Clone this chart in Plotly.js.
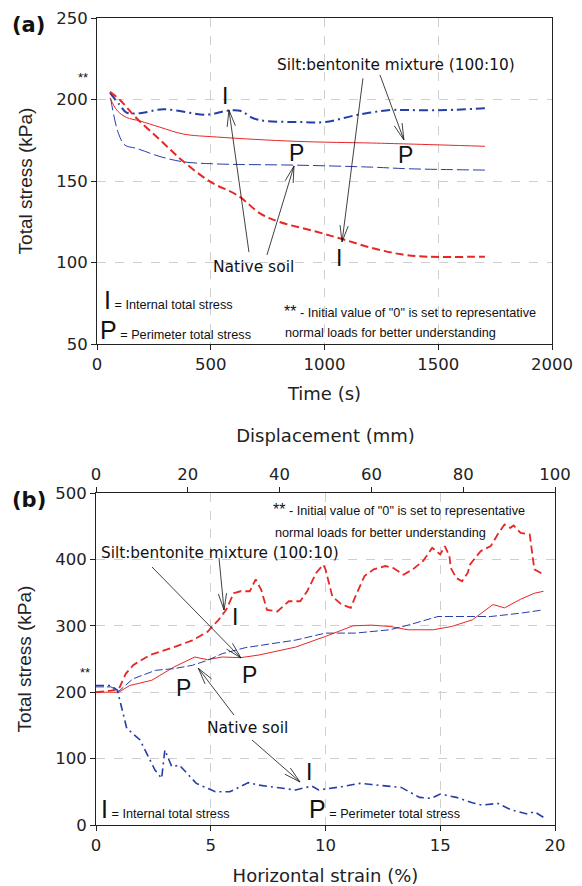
<!DOCTYPE html>
<html><head><meta charset="utf-8">
<script src="https://cdn.plot.ly/plotly-3.0.1.min.js"></script>
<style>body{margin:0;padding:0;background:#fff}#chart{width:582px;height:886px}</style>
</head><body><div id="chart"></div>
<script>
// ---- Panel (a): Time (s) vs Total stress (kPa)
const aNatIntT = [57, 98, 130, 189, 292, 482, 570, 629, 687, 746, 881, 1003, 1142, 1289, 1370, 1533, 1705];
const aNatIntS = [204, 197, 192, 191.6, 194, 190.7, 193.1, 193.1, 188.5, 186.8, 186.2, 186.2, 190.5, 193.5, 193.5, 193.5, 194.7];
const aNatPerT = [60, 94, 123, 174, 277, 379, 520, 881, 1207, 1370, 1705];
const aNatPerS = [200.6, 179.3, 172, 170, 165, 161.8, 160.5, 159.7, 158.5, 157.5, 156.7];
const aSiltPerT = [57, 90, 130, 189, 277, 380, 525, 881, 1207, 1370, 1705];
const aSiltPerS = [201, 193, 189, 186.8, 183, 178.8, 177, 174.3, 173.3, 172.7, 171.3];
const aSiltIntT = [57, 101, 174, 277, 372, 497, 620, 718, 799, 962, 1077, 1207, 1338, 1452, 1705];
const aSiltIntS = [204.8, 199.7, 188.5, 175.2, 162.9, 149.6, 141, 130, 125, 119, 114.4, 109, 105, 103.6, 103.6];

// ---- Panel (b): Horizontal strain (%) vs Total stress (kPa)
const bSiltIntX = [0, 0.65, 1.0, 1.3, 1.63, 2.35, 3.4, 4.2, 4.86, 5.34, 5.67, 6.0, 6.3, 6.7, 6.96, 7.2, 7.45, 7.9, 8.4, 8.9, 9.2, 9.6, 9.9, 10.0, 10.3, 10.7, 11.1, 11.3, 11.7, 12.1, 12.6, 12.96, 13.4, 13.8, 14.25, 14.65, 15.0, 15.2, 15.4, 15.46, 15.7, 15.95, 16.2, 16.3, 16.76, 17.2, 17.5, 17.8, 18.05, 18.2, 18.5, 18.9, 19.1, 19.5];
const bSiltIntY = [200, 202.5, 205, 228, 241, 256, 268, 278, 291, 309, 324, 349, 352, 352, 370, 354, 324, 321.5, 337, 337, 352, 380, 392, 385, 344, 332, 327, 344, 375, 385, 390, 387, 377, 385, 397.5, 417.5, 407.5, 420, 405, 387, 372, 367, 380, 392.5, 412.5, 420, 437.5, 452.5, 447.5, 451, 440, 437.5, 385, 377.5];
const bSiltPerX = [0, 1.0, 1.46, 2.43, 3.4, 4.3, 4.86, 5.5, 6.3, 7.1, 8.7, 10.0, 11.2, 12.0, 12.8, 13.6, 14.7, 15.5, 16.4, 17.3, 17.8, 18.5, 19.1, 19.5];
const bSiltPerY = [200, 200, 210, 218, 238, 253, 249, 253, 252, 256, 268, 284, 300, 301, 299, 294, 294, 299, 309, 332, 327, 340, 349, 352];
const bNatPerX = [0, 0.65, 1.0, 1.6, 2.6, 3.4, 4.2, 4.86, 5.5, 6.5, 7.45, 8.7, 10, 11.3, 12.8, 13.6, 14.9, 16.0, 17.2, 18.5, 19.5];
const bNatPerY = [208, 208, 201.5, 220, 233, 235.5, 240.5, 248, 258, 267, 272, 278.5, 289, 289, 294, 301, 314, 314, 314, 319, 324];
const bNatIntX = [0, 0.65, 0.93, 1.12, 1.34, 1.92, 2.2, 2.57, 2.86, 3.0, 3.3, 3.64, 4.37, 5.2, 5.83, 6.64, 7.1, 8.1, 8.7, 9.4, 9.7, 10.7, 11.5, 12, 13.3, 14.1, 14.6, 15.0, 15.7, 16.4, 16.8, 17.5, 18.1, 18.8, 19.1, 19.5];
const bNatIntY = [210, 210, 203, 178, 145.6, 128, 108, 82.8, 70.3, 113, 88, 90, 62.7, 50, 50, 63.8, 60, 55, 52.7, 58.7, 52.7, 57.7, 62.7, 61, 56.6, 41.6, 40, 46.6, 41.6, 33.5, 30, 32.5, 22.6, 16.6, 20, 11.5];
const bDispRange = [0, 100];

const W = 582, H = 886;
const RED = 'rgb(232,38,38)';
const BLUE = 'rgb(38,62,168)';
const FONT = 'DejaVu Sans, sans-serif';
const LIB = 'Liberation Sans, Arial, sans-serif';

const traces = [
  {x: aNatIntT, y: aNatIntS, xaxis: 'x', yaxis: 'y', mode: 'lines', line: {color: BLUE, width: 2, dash: '9px,4px,2px,4px', shape: 'spline'}},
  {x: aNatPerT, y: aNatPerS, xaxis: 'x', yaxis: 'y', mode: 'lines', line: {color: BLUE, width: 1, dash: '12px,4px', shape: 'spline'}},
  {x: aSiltPerT, y: aSiltPerS, xaxis: 'x', yaxis: 'y', mode: 'lines', line: {color: RED, width: 1, shape: 'spline'}},
  {x: aSiltIntT, y: aSiltIntS, xaxis: 'x', yaxis: 'y', mode: 'lines', line: {color: RED, width: 2, dash: '8px,4px', shape: 'spline'}},
  {x: bSiltIntX, y: bSiltIntY, xaxis: 'x2', yaxis: 'y2', mode: 'lines', line: {color: RED, width: 1.8, dash: '8px,4px'}},
  {x: bSiltPerX, y: bSiltPerY, xaxis: 'x2', yaxis: 'y2', mode: 'lines', line: {color: RED, width: 1}},
  {x: bNatPerX, y: bNatPerY, xaxis: 'x2', yaxis: 'y2', mode: 'lines', line: {color: BLUE, width: 1, dash: '8px,3px'}},
  {x: bNatIntX, y: bNatIntY, xaxis: 'x2', yaxis: 'y2', mode: 'lines', line: {color: BLUE, width: 1.6, dash: '8px,4px,2px,4px'}},
  {x: bDispRange, y: [0, 0], xaxis: 'x3', yaxis: 'y2', mode: 'lines', line: {width: 0}, opacity: 0, hoverinfo: 'skip'}
];

const axBase = {
  showline: true, linecolor: '#222', linewidth: 1, ticks: 'outside', ticklen: 5, tickcolor: '#222',
  showgrid: true, gridcolor: '#cfcfcf', griddash: 'dash', gridwidth: 1, zeroline: false,
  tickfont: {family: FONT, size: 16.5, color: '#222'}
};
const tfont = {family: FONT, size: 18, color: '#222'};

function txt(xr, yr, x, y, t, size, extra) {
  return Object.assign({xref: xr, yref: yr, x: x, y: y, text: t, showarrow: false,
    xanchor: 'center', yanchor: 'middle',
    font: {family: FONT, size: size, color: '#111'}}, extra || {});
}
function small(x, y, t) {
  return txt('paper', 'paper', x / W, 1 - y / H, t, 12.7,
    {xanchor: 'left', font: {family: LIB, size: 12.7, color: '#111'}});
}
function big(xr, yr, x, y, t) {
  return txt(xr, yr, x, y, t, 23, {font: {family: LIB, size: 23, color: '#111'}});
}

const layout = {
  width: W, height: H, margin: {l: 0, r: 0, t: 0, b: 0},
  paper_bgcolor: '#fff', plot_bgcolor: '#fff', showlegend: false,
  font: {family: FONT, color: '#222'},
  xaxis: Object.assign({}, axBase, {domain: [97/W, 552/W], anchor: 'y', range: [0, 2000], dtick: 500, mirror: true,
    title: {text: 'Time (s)', font: tfont, standoff: 14}}),
  yaxis: Object.assign({}, axBase, {domain: [1 - 344/H, 1 - 18/H], anchor: 'x', range: [50, 250], dtick: 50, mirror: true,
    title: {text: 'Total stress (kPa)', font: {family: LIB, size: 19, color: '#222'}, standoff: 18}}),
  xaxis2: Object.assign({}, axBase, {domain: [96/W, 555/W], anchor: 'y2', range: [0, 20], dtick: 5, mirror: false,
    title: {text: 'Horizontal strain (%)', font: tfont, standoff: 16}}),
  yaxis2: Object.assign({}, axBase, {domain: [1 - 825/H, 1 - 493/H], anchor: 'x2', range: [0, 500], dtick: 100, mirror: true,
    title: {text: 'Total stress (kPa)', font: {family: LIB, size: 19, color: '#222'}, standoff: 18}}),
  xaxis3: Object.assign({}, axBase, {overlaying: 'x2', side: 'top', anchor: 'y2', range: bDispRange, dtick: 20, showgrid: false,
    title: {text: 'Displacement (mm)', font: tfont, standoff: 18}})
};

// pixel mapping from the layout's own axis domains/ranges (for drawing open V arrowheads)
function px(axName, v) {
  const ax = layout[axName];
  const d = ax.domain, r = ax.range;
  if (axName.startsWith('x')) return d[0] * W + (v - r[0]) / (r[1] - r[0]) * (d[1] - d[0]) * W;
  return H * (1 - d[1]) + (r[1] - v) / (r[1] - r[0]) * (d[1] - d[0]) * H;
}
const shapes = [];
function arrow(xa, ya, hx, hy, tx, ty) {
  const Hx = px(xa, hx), Hy = px(ya, hy), Tx = px(xa, tx), Ty = px(ya, ty);
  const ang = Math.atan2(Ty - Hy, Tx - Hx), L = 17, da = 14 * Math.PI / 180;
  const a1x = Hx + L * Math.cos(ang + da), a1y = Hy + L * Math.sin(ang + da);
  const a2x = Hx + L * Math.cos(ang - da), a2y = Hy + L * Math.sin(ang - da);
  const P = (x, y) => (x / W).toFixed(5) + ',' + (1 - y / H).toFixed(5);
  shapes.push({type: 'path', xref: 'paper', yref: 'paper',
    path: 'M' + P(Tx, Ty) + ' L' + P(Hx, Hy) + ' M' + P(a1x, a1y) + ' L' + P(Hx, Hy) + ' L' + P(a2x, a2y),
    line: {color: '#111', width: 0.8}});
}

const annotations = [
  // panel (a)
  txt('paper', 'paper', 10/W, 1 - 25/H, '<b>(a)</b>', 21, {xanchor: 'left'}),
  txt('paper', 'paper', 83/W, 1 - 77/H, '**', 12, {font: {family: LIB, size: 13, color: '#111'}}),
  txt('x', 'y', 1314, 221, 'Silt:bentonite mixture (100:10)', 15.3),
  big('x', 'y', 563, 202, 'I'),
  big('x', 'y', 875, 167, 'P'),
  big('x', 'y', 1354, 166, 'P'),
  big('x', 'y', 1064, 103, 'I'),
  txt('x', 'y', 686, 97, 'Native soil', 15.5),
  small(102, 300, '<span style="font-size:25px">I</span> = Internal total stress'),
  small(98, 330, '<span style="font-size:25px">P</span> = Perimeter total stress'),
  small(282, 311, '<span style="font-size:16px">**</span> - Initial value of "0" is set to representative'),
  small(283, 333, 'normal loads for better understanding'),
  // panel (b)
  txt('paper', 'paper', 10/W, 1 - 500/H, '<b>(b)</b>', 21, {xanchor: 'left'}),
  txt('paper', 'paper', 85/W, 1 - 672/H, '**', 12, {font: {family: LIB, size: 13, color: '#111'}}),
  small(271, 509, '<span style="font-size:16px">**</span> - Initial value of "0" is set to representative'),
  small(273, 533, 'normal loads for better understanding'),
  txt('x2', 'y2', 5.4, 410, 'Silt:bentonite mixture (100:10)', 15.3),
  big('x2', 'y2', 6.05, 313, 'I'),
  big('x2', 'y2', 6.7, 226, 'P'),
  big('x2', 'y2', 3.8, 206, 'P'),
  big('x2', 'y2', 9.3, 80, 'I'),
  txt('x2', 'y2', 6.6, 146, 'Native soil', 15.5),
  small(99, 809, '<span style="font-size:25px">I</span> = Internal total stress'),
  small(307, 809, '<span style="font-size:25px">P</span> = Perimeter total stress')
];

arrow('xaxis', 'yaxis', 1077, 112.6, 1169, 213);
arrow('xaxis', 'yaxis', 1349, 175.2, 1244, 215);
arrow('xaxis', 'yaxis', 580, 193.6, 668, 106.4);
arrow('xaxis', 'yaxis', 866, 159.2, 747, 104.6);
arrow('xaxis2', 'yaxis2', 6.32, 251.5, 2.44, 388.6);
arrow('xaxis2', 'yaxis2', 5.58, 323.8, 5.36, 402);
arrow('xaxis2', 'yaxis2', 4.46, 236, 6.01, 165.7);
arrow('xaxis2', 'yaxis2', 8.89, 64.8, 6.8, 128);

layout.annotations = annotations;
layout.shapes = shapes;

Plotly.newPlot('chart', traces, layout, {staticPlot: true});
</script></body></html>
